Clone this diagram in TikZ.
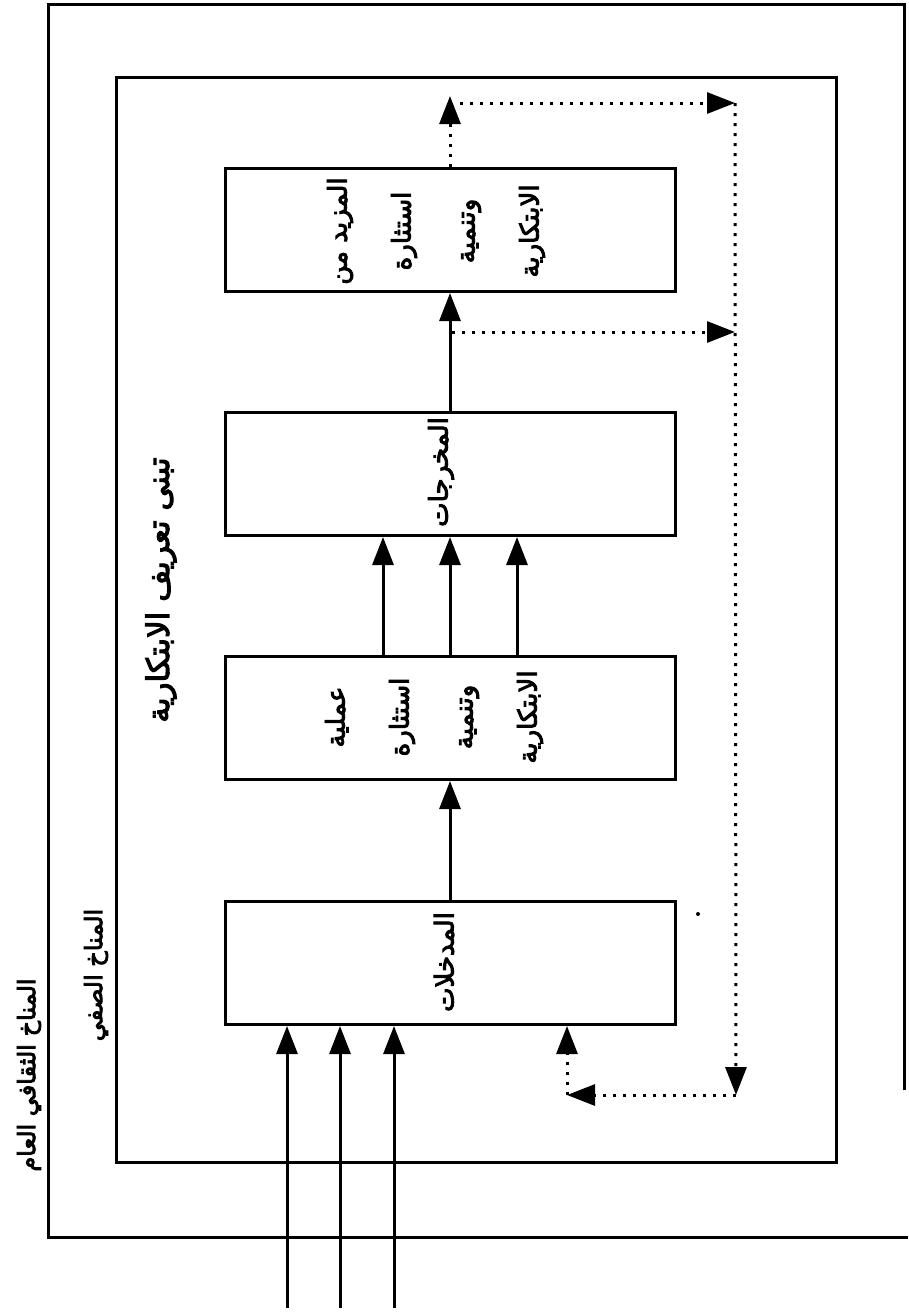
\documentclass[tikz,border=0pt]{standalone}
\usepackage{fontspec}
\usetikzlibrary{arrows.meta,calc}
\newfontfamily\arabicbold[Script=Arabic,FakeBold=3.5]{DejaVu Sans}
\TeXXeTstate=1
\begin{document}
\begin{tikzpicture}[x=1pt,y=-1pt,
  frame/.style={line width=3pt},
  box/.style={draw,line width=3pt,minimum width=450pt,minimum height=123pt,inner sep=0pt},
  arr/.style={line width=3pt,-{Triangle[length=28pt,width=21pt]}},
  dotarr/.style={line width=3pt,dash pattern=on 3pt off 7pt,-{Triangle[length=28pt,width=21pt]}},
  boxtext/.style={rotate=90,align=center,inner sep=0pt,font=\arabicbold\fontsize{26}{64}\selectfont},
  lbl/.style={rotate=90,inner sep=0pt,font=\arabicbold\fontsize{24}{28}\selectfont}]
\fill[white] (0,0) rectangle (908,1312);
\useasboundingbox (0,0) rectangle (908,1312);
% frames
\draw[frame] (904,1090) -- (904,4) -- (48,4) -- (48,1237) -- (908,1237);
\draw[frame] (116,77) rectangle (836,1162);
% boxes
\node[box] (b1) at (450,963) {};
\node[box] (b2) at (450,718) {};
\node[box] (b3) at (450,474) {};
\node[box] (b4) at (450,230) {};
% box texts
\node[boxtext] (t1) at (444,962) {\beginR المدخلات\endR};
\node[boxtext] (t2) at (434,717) {\beginR عملية\endR\\\beginR استثارة\endR\\\beginR وتنمية\endR\\\beginR الابتكارية\endR};
\node[boxtext] (t3) at (441,472) {\beginR المخرجات\endR};
\node[boxtext] (t4) at (436,231) {\beginR المزيد من\endR\\\beginR استثارة\endR\\\beginR وتنمية\endR\\\beginR الابتكارية\endR};
% labels
\node[lbl,font=\arabicbold\fontsize{31}{34}\selectfont] (title) at (161,590) {\beginR تبنى تعريف الابتكارية\endR};
\node[lbl] (cls) at (96,975) {\beginR المناخ الصفي\endR};
\node[lbl] (gen) at (29,1075) {\beginR المناخ الثقافي العام\endR};
% inputs
\coordinate (i1) at (287,1308);
\coordinate (i2) at (340,1308);
\coordinate (i3) at (394,1308);
\foreach \i in {i1,i2,i3} \draw[arr] (\i) -- (\i |- b1.south);
% main flow
\draw[arr] (b1.north) -- (b2.south);
\draw[arr] ([xshift=-67pt]b2.north) -- ([xshift=-67pt]b3.south);
\draw[arr] (b2.north) -- (b3.south);
\draw[arr] ([xshift=67pt]b2.north) -- ([xshift=67pt]b3.south);
\draw[arr] (b3.north) -- (b4.south);
% feedback
\coordinate (top) at (450,96);
\coordinate (tl) at (460,103);
\coordinate (tr) at (735,103);
\coordinate (ml) at (452,332);
\coordinate (mr) at (735,332);
\coordinate (br) at (736,1095);
\coordinate (bl) at (567,1095);
\draw[dotarr] (b4.north) -- (top);
\draw[dotarr] (tl) -- (tr);
\draw[dotarr] (ml) -- (mr);
\draw[dotarr] (tr) -- (br);
\draw[dotarr] (br) -- (bl);
\draw[dotarr] (bl) -- (bl |- b1.south);
\fill (698,914) circle (2pt);
\end{tikzpicture}
\end{document}
